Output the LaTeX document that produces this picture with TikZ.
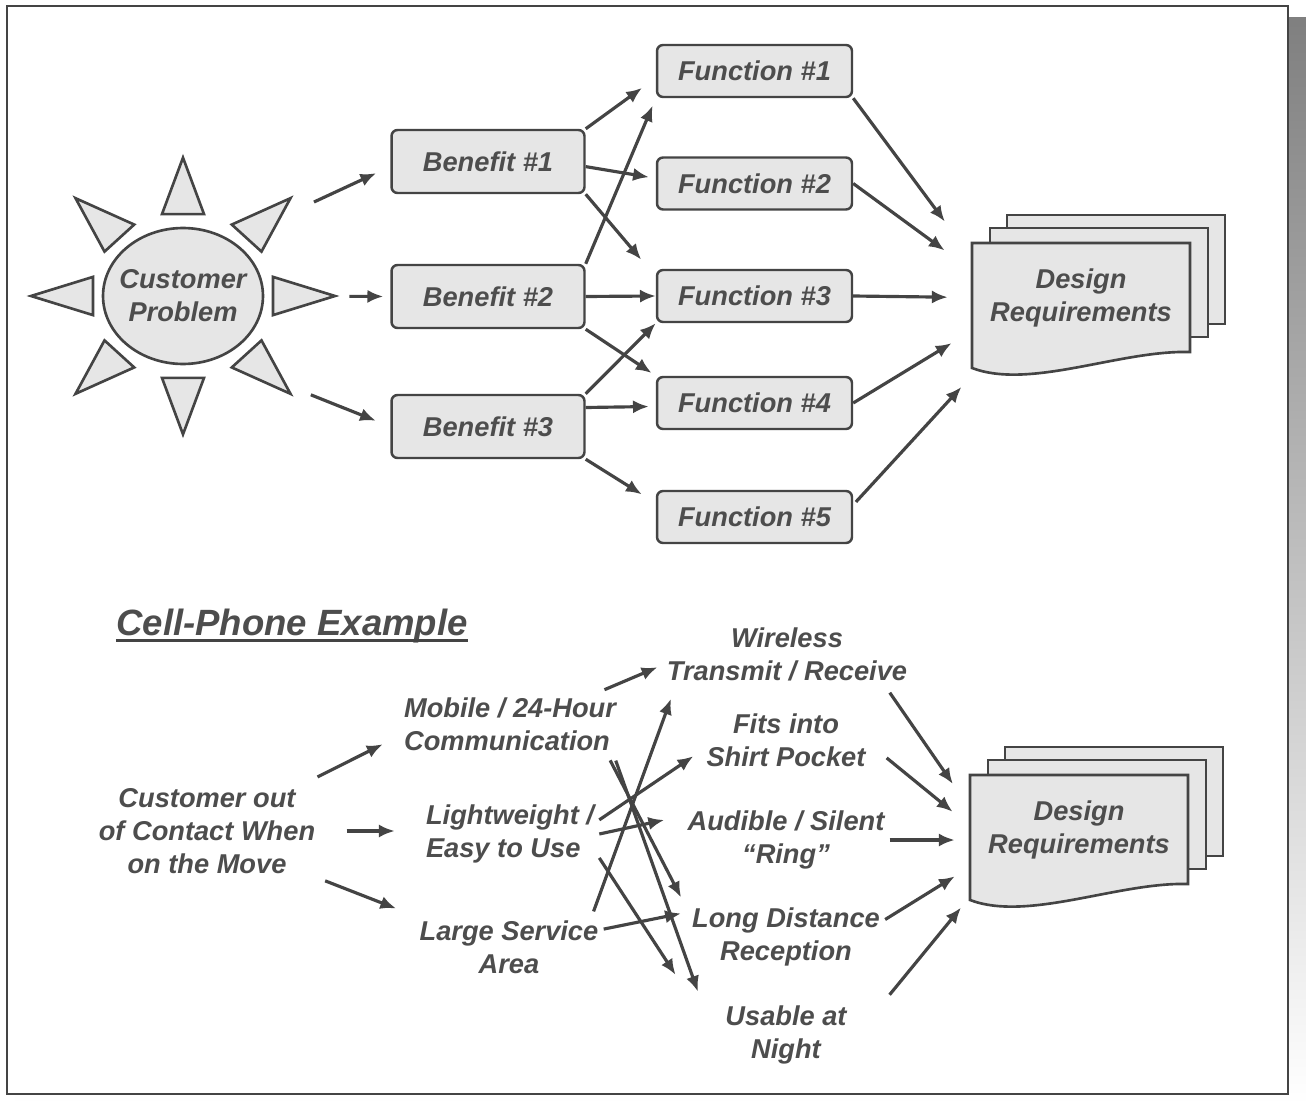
\documentclass[tikz,border=0pt]{standalone}
\usepackage{fontspec}
\setmainfont{Liberation Sans}
\usetikzlibrary{arrows.meta,shapes.geometric}

\definecolor{ink}{HTML}{444444}
\definecolor{txt}{HTML}{4D4D4D}
\definecolor{paper}{HTML}{E6E6E6}
\definecolor{shade}{HTML}{858585}

\begin{document}
\begin{tikzpicture}[x=0.02cm, y=-0.02cm,
    every node/.style={text=txt, align=center, font=\fontsize{15.5}{18.8}\selectfont\bfseries\itshape},
    box/.style={draw=ink, fill=paper, line width=1.4pt, rounded corners=0.12cm},
    benbox/.style={box, minimum width=3.86cm, minimum height=1.26cm},
    funcbox/.style={box, minimum width=3.9cm, minimum height=1.04cm},
    sheet/.style={draw=ink, fill=paper, line width=1.5pt},
    lbl/.style={inner sep=0.1cm},
    arr/.style={draw=ink, line width=1.8pt, -{Latex[length=9pt,width=7.5pt]}}]

        \useasboundingbox (0,0) rectangle (1306,1105);

        % Frame with its shadow
        \fill[shade] (15,18) rectangle (1306,1105);
        \draw[ink, fill=white, line width=1.6pt] (7,6) rectangle (1288,1094);

        % Customer problem (sun)
        \foreach \a in {0,45,...,315}
            \draw[sheet, shift={(183,296)}, yscale=0.91, rotate=\a] (152,0) -- (90,21) -- (90,-21) -- cycle;
        \node[ellipse, draw=ink, fill=paper, line width=1.5pt, inner xsep=-0.2cm, inner ysep=0pt,
              minimum width=3.2cm, minimum height=2.72cm] (sun) at (183,296) {Customer\\Problem};

        % Benefits
        \node[benbox] (b1) at (488,161.5) {Benefit \#1};
        \node[benbox] (b2) at (488,296.5) {Benefit \#2};
        \node[benbox] (b3) at (488,426.5) {Benefit \#3};

        % Functions
        \node[funcbox] (f1) at (754.5,71) {Function \#1};
        \node[funcbox] (f2) at (754.5,183.5) {Function \#2};
        \node[funcbox] (f3) at (754.5,296) {Function \#3};
        \node[funcbox] (f4) at (754.5,403) {Function \#4};
        \node[funcbox] (f5) at (754.5,517) {Function \#5};

        % Design requirements (stack of sheets)
        \begin{scope}[shift={(972,243)}]
            \draw[sheet] (35,-28) rectangle (253,81);
            \draw[sheet] (18,-15) rectangle (236,94);
            \draw[sheet] (0,0) -- (218,0) -- (218,109) .. controls (148,107) and (58,147) .. (0,125) -- cycle;
            \node[minimum width=4.36cm, minimum height=2.18cm] (dt) at (109,54.5) {Design\\Requirements};
        \end{scope}

        % Arrows: problem to benefits
        \draw[arr, shorten <=1.82cm, shorten >=0.31cm] (sun.49) -- (b1.183);
        \draw[arr, shorten <=1.7cm, shorten >=0.14cm] (sun.east) -- (b2.west);
        \draw[arr, shorten <=1.98cm, shorten >=0.31cm] (sun.300) -- (b3.west);

        % Arrows: benefits to functions
        \draw[arr, shorten >=0.34cm] (b1.north east) -- (f1.184);
        \draw[arr, shorten >=0.14cm] (b1.-3) -- (f2.177);
        \draw[arr, shorten >=0.45cm] (b1.south east) -- (f3.169);
        \draw[arr, shorten >=0.16cm] (b2.north east) -- (f1.south west);
        \draw[arr] (b2.east) -- (f3.west);
        \draw[arr, shorten >=0.1cm] (b2.south east) -- (f4.north west);
        \draw[arr] (b3.north east) -- (f3.south west);
        \draw[arr, shorten >=0.14cm] (b3.11) -- (f4.182);
        \draw[arr, shorten >=0.33cm] (b3.south east) -- (f5.172);

        % Arrows: functions to design requirements
        \draw[arr, shorten >=0.9cm] (f1.south east) -- (dt.160);
        \draw[arr, shorten >=0.67cm] (f2.east) -- (dt.166);
        \draw[arr, shorten >=0.48cm] (f3.east) -- (dt.west);
        \draw[arr, shorten >=0.47cm] (f4.east) -- (dt.197);
        \draw[arr, shorten <=0.08cm, shorten >=0.94cm] (f5.7) -- (dt.212);

        % Cell-phone example
        \node[font=\fontsize{20.8}{25}\selectfont\bfseries\itshape, inner sep=0pt, anchor=base] (title) at (292,635) {Cell-Phone Example};
        \draw[ink, line width=1.6pt] ([yshift=-0.11cm]title.base west) -- ([yshift=-0.11cm]title.base east);

        \node[lbl] (cust) at (207,831) {Customer out\\of Contact When\\on the Move};

        \node[lbl, align=left] (mob) at (510,724.5) {Mobile / 24-Hour\\Communication};
        \node[lbl, align=left] (light) at (510,834) {Lightweight /\\Easy to Use};
        \node[lbl] (large) at (509,947.5) {Large Service\\Area};

        \node[lbl] (wl) at (787,654.5) {Wireless\\Transmit / Receive};
        \node[lbl] (fits) at (786,740.5) {Fits into\\Shirt Pocket};
        \node[lbl] (aud) at (786,840) {Audible / Silent\\“Ring”};
        \node[lbl] (long) at (786,937) {Long Distance\\Reception};
        \node[lbl] (use) at (786,1035) {Usable at\\Night};

        \begin{scope}[shift={(970,775)}]
            \draw[sheet] (35,-28) rectangle (253,81);
            \draw[sheet] (18,-15) rectangle (236,94);
            \draw[sheet] (0,0) -- (218,0) -- (218,109) .. controls (148,107) and (58,147) .. (0,125) -- cycle;
            \node[minimum width=4.36cm, minimum height=2.18cm] (db) at (109,54.5) {Design\\Requirements};
        \end{scope}

        % Arrows: problem to benefits (cell phone)
        \draw[arr, shorten <=0.27cm, shorten >=0.36cm] (cust.26) -- (mob.186);
        \draw[arr, shorten <=0.52cm, shorten >=0.52cm] (cust.east) -- (cust.east -| light.west);
        \draw[arr, shorten <=0.1cm, shorten >=0.39cm] (cust.south east) -- (large.north west);

        % Arrows: benefits to functions (cell phone)
        \draw[arr, shorten <=0.15cm, shorten >=0.09cm] (mob.20) -- (wl.185);
        \draw[arr, shorten <=0.09cm, shorten >=0.25cm] (mob.-18) -- (long.164);
        \draw[arr, shorten <=0.09cm, shorten >=1.32cm] (mob.-17) -- (use.196);
        \draw[arr, shorten >=0.19cm] (light.9) -- (fits.187);
        \draw[arr, shorten >=0.37cm] (light.east) -- (aud.167);
        \draw[arr, shorten >=1.63cm] (light.-15) -- (use.187);
        \draw[arr, shorten <=0.09cm, shorten >=0.26cm] (large.21) -- (wl.196);
        \draw[arr, shorten >=0.12cm] (large.11) -- (long.166);

        % Arrows: functions to design requirements (cell phone)
        \draw[arr, shorten <=0.15cm, shorten >=0.59cm] (wl.-18) -- (db.169);
        \draw[arr, shorten <=0.41cm, shorten >=0.44cm] (fits.-3) -- (db.178);
        \draw[arr, shorten >=0.3cm] (aud.east) -- (aud.east -| db.west);
        \draw[arr, shorten >=0.35cm] (long.10) -- (db.199);
        \draw[arr, shorten <=1.19cm, shorten >=0.6cm] (use.-5) -- (db.209);
    \end{tikzpicture}
\end{document}
